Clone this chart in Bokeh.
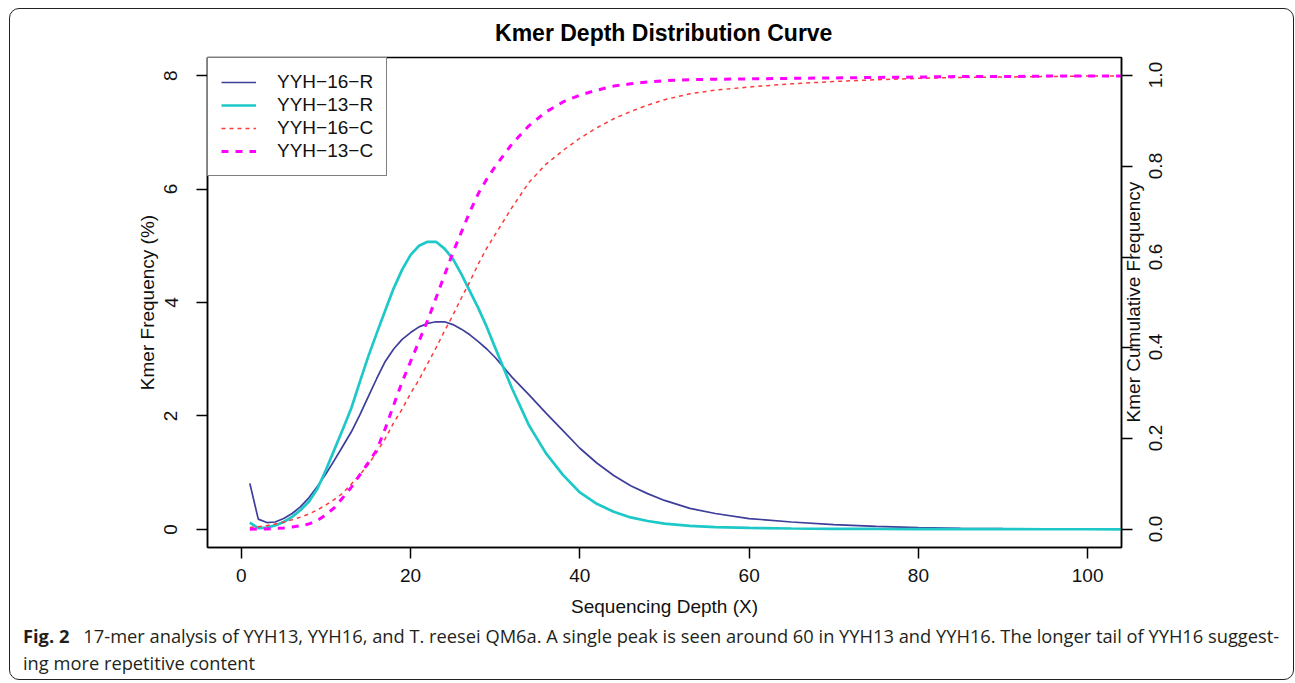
import math
from bokeh.plotting import figure
from bokeh.layouts import column
from bokeh.core.properties import value
from bokeh.models import (LinearAxis, Range1d, FixedTicker, PrintfTickFormatter,
                          Legend, LegendItem, ColumnDataSource, Div, HTMLLabelSet)
from bokeh.embed import file_html
from bokeh.resources import INLINE

# ---------------- data ----------------
depth = [1, 2, 3, 4, 5, 6, 7, 8, 9, 10,
         11, 12, 13, 14, 15, 16, 17, 18, 19, 20,
         21, 22, 23, 24, 25, 26, 27, 28, 29, 30,
         32, 34, 36, 38, 40, 42, 44, 46, 48, 50,
         53, 56, 60, 65, 70, 75, 80, 85, 90, 95, 100, 105]

yyh16_r = [0.81, 0.18, 0.12, 0.13, 0.19, 0.28, 0.40, 0.56, 0.76, 0.98,
           1.22, 1.47, 1.72, 2.02, 2.34, 2.66, 2.96, 3.18, 3.35, 3.47,
           3.57, 3.63, 3.66, 3.66, 3.61, 3.53, 3.43, 3.31, 3.18, 3.03,
           2.68, 2.37, 2.05, 1.74, 1.43, 1.17, 0.95, 0.77, 0.63, 0.51,
           0.37, 0.28, 0.19, 0.13, 0.083, 0.052, 0.032, 0.019, 0.012, 0.008, 0.005, 0.003]

yyh13_r = [0.12, 0.02, 0.03, 0.07, 0.13, 0.22, 0.34, 0.49, 0.72, 1.05,
           1.41, 1.77, 2.14, 2.60, 3.05, 3.46, 3.86, 4.25, 4.58, 4.84,
           5.00, 5.07, 5.07, 4.95, 4.77, 4.50, 4.20, 3.90, 3.57, 3.20,
           2.48, 1.83, 1.34, 0.96, 0.65, 0.45, 0.31, 0.21, 0.147, 0.10,
           0.06, 0.04, 0.025, 0.015, 0.010, 0.007, 0.005, 0.004, 0.003, 0.002, 0.002, 0.001]

yyh16_c = [0.004, 0.006, 0.008, 0.012, 0.016, 0.021, 0.027, 0.034, 0.043, 0.054,
           0.066, 0.080, 0.100, 0.120, 0.143, 0.170, 0.200, 0.235, 0.265, 0.300,
           0.330, 0.365, 0.400, 0.437, 0.472, 0.510, 0.546, 0.585, 0.620, 0.650,
           0.710, 0.765, 0.805, 0.835, 0.862, 0.885, 0.905, 0.921, 0.935, 0.947,
           0.960, 0.968, 0.975, 0.982, 0.987, 0.991, 0.994, 0.996, 0.997, 0.998, 0.999, 0.999]

yyh13_c = [0.000, 0.001, 0.001, 0.002, 0.003, 0.005, 0.008, 0.012, 0.020, 0.032,
           0.048, 0.070, 0.093, 0.120, 0.147, 0.175, 0.222, 0.274, 0.325, 0.370,
           0.415, 0.460, 0.510, 0.560, 0.610, 0.655, 0.700, 0.740, 0.772, 0.800,
           0.850, 0.890, 0.920, 0.942, 0.957, 0.968, 0.977, 0.982, 0.986, 0.989,
           0.991, 0.992, 0.993, 0.994, 0.995, 0.996, 0.997, 0.998, 0.998, 0.999, 0.999, 0.999]

series_names = ["YYH\u221216\u2212R", "YYH\u221213\u2212R", "YYH\u221216\u2212C", "YYH\u221213\u2212C"]
x_ticks = [0, 20, 40, 60, 80, 100]
left_ticks = [0, 2, 4, 6, 8]
right_ticks = [0.0, 0.2, 0.4, 0.6, 0.8, 1.0]
right_tick_labels = ["0.0", "0.2", "0.4", "0.6", "0.8", "1.0"]

title_text = "Kmer Depth Distribution Curve"
x_label = "Sequencing Depth (X)"
y_label = "Kmer Frequency (%)"
y2_label = "Kmer Cumulative Frequency"
caption_bold = "Fig. 2"
caption_line1 = ("17-mer analysis of YYH13, YYH16, and T. reesei QM6a. A single peak is seen "
                 "around 60 in YYH13 and YYH16. The longer tail of YYH16 suggest-")
caption_line2 = "ing more repetitive content"

# ---------------- figure ----------------
FONT = "Liberation Sans"
X0, X1 = -4, 104
Y0, Y1 = -0.32, 8.32

p = figure(width=1283, height=615,
           x_range=Range1d(X0, X1), y_range=Range1d(Y0, Y1),
           output_backend="svg", toolbar_location=None,
           min_border_left=197, min_border_right=172,
           min_border_top=48, min_border_bottom=77)
p.extra_y_ranges = {"cum": Range1d(Y0 / 8.0, Y1 / 8.0)}

p.border_fill_color = None
p.background_fill_color = "white"
p.outline_line_color = "black"
p.outline_line_width = 1.5
p.xgrid.visible = False
p.ygrid.visible = False


def style_axis(ax, standoff):
    ax.major_label_text_font = FONT
    ax.major_label_text_font_size = "19px"
    ax.major_label_text_color = "#111111"
    ax.axis_label_text_font = FONT
    ax.axis_label_text_font_size = "19px"
    ax.axis_label_text_font_style = "normal"
    ax.axis_label_text_color = "#111111"
    ax.major_tick_in = 0
    ax.major_tick_out = 11
    ax.major_tick_line_width = 1.5
    ax.major_tick_line_color = "black"
    ax.minor_tick_line_color = None
    ax.axis_line_width = 1.5
    ax.axis_line_color = "black"
    ax.major_label_standoff = standoff


xa = p.xaxis[0]
xa.ticker = FixedTicker(ticks=x_ticks)
style_axis(xa, 10)
xa.axis_label = x_label
xa.axis_label_standoff = 11

ya = p.yaxis[0]
ya.ticker = FixedTicker(ticks=left_ticks)
style_axis(ya, 19)
ya.major_label_orientation = "vertical"
ya.axis_label = y_label
ya.axis_label_standoff = 4

ra = LinearAxis(y_range_name="cum", ticker=FixedTicker(ticks=right_ticks),
                formatter=PrintfTickFormatter(format="%.1f"))
style_axis(ra, 21)
ra.major_label_text_color = None
p.add_layout(ra, "right")

# ---------------- lines ----------------
src = ColumnDataSource(dict(x=depth, r16=yyh16_r, r13=yyh13_r, c16=yyh16_c, c13=yyh13_c))
l1 = p.line("x", "r16", source=src, line_color="#3D3D9A", line_width=1.7)
l2 = p.line("x", "r13", source=src, line_color="#1FC8C8", line_width=2.7)
l3 = p.line("x", "c16", source=src, y_range_name="cum", line_color="#FF3A3A",
            line_width=1.5, line_dash="4 4")
l4 = p.line("x", "c13", source=src, y_range_name="cum", line_color="#FF00FF",
            line_width=3, line_dash="7 7")

legend = Legend(items=[LegendItem(label=n, renderers=[r]) for n, r in
                       zip(series_names, [l1, l2, l3, l4])],
                location="top_left")
legend.margin = 0
legend.padding = 13
legend.spacing = 1
legend.glyph_width = 35
legend.glyph_height = 20
legend.label_height = 20
legend.label_standoff = 21
legend.label_text_font = FONT
legend.label_text_font_size = "19px"
legend.label_text_color = "#111111"
legend.border_line_color = "black"
legend.border_line_width = 1.5
legend.background_fill_alpha = 1.0
p.add_layout(legend, "center")

# ---------------- texts outside the frame (title, right axis) ----------------
FX0, FX1, FY0, FY1 = 207.0, 1120.5, 57.0, 547.0


def px2x(px):
    return X0 + (px - FX0) / (FX1 - FX0) * (X1 - X0)


def py2y(py):
    return Y1 - (py - FY0) / (FY1 - FY0) * (Y1 - Y0)


tsrc = ColumnDataSource(dict(x=[px2x(663.5)], y=[py2y(33)], text=[title_text]))
p.add_layout(HTMLLabelSet(x="x", y="y", text="text", source=tsrc,
                          text_align="center", text_baseline="middle",
                          text_font=value(FONT), text_font_size=value("23px"),
                          text_font_style=value("bold"), text_color="#000000"))

rsrc = ColumnDataSource(dict(x=[px2x(1155)] * len(right_ticks), y=right_ticks,
                             text=right_tick_labels))
p.add_layout(HTMLLabelSet(x="x", y="y", text="text", source=rsrc, y_range_name="cum",
                          angle=math.pi / 2, text_align="center", text_baseline="middle",
                          text_font=value(FONT), text_font_size=value("19px"),
                          text_color="#111111"))

lsrc = ColumnDataSource(dict(x=[px2x(1133)], y=[py2y(302)], text=[y2_label]))
p.add_layout(HTMLLabelSet(x="x", y="y", text="text", source=lsrc,
                          angle=math.pi / 2, text_align="center", text_baseline="middle",
                          text_font=value(FONT), text_font_size=value("19px"),
                          text_color="#111111"))

# ---------------- caption ----------------
caption_html = (
    '<div style="font-family: \'Open Sans\', sans-serif; font-size: 18.3px; line-height: 27px; '
    'color: #231F20; white-space: nowrap; padding-left: 8px; margin-top: -7px;">'
    '<b>' + caption_bold + '</b><span style="margin-left: 14px;">' + caption_line1 +
    '</span><br>' + caption_line2 + '</div>')
cap = Div(text=caption_html, width=1283, height=55)

layout = column(p, cap, spacing=0, width=1283, height=670, sizing_mode="fixed",
                styles={"border": "1px solid #222", "border-radius": "10px",
                        "margin-left": "9px", "margin-top": "8px",
                        "box-sizing": "content-box"})

open("out.html", "w").write(file_html(layout, INLINE))
